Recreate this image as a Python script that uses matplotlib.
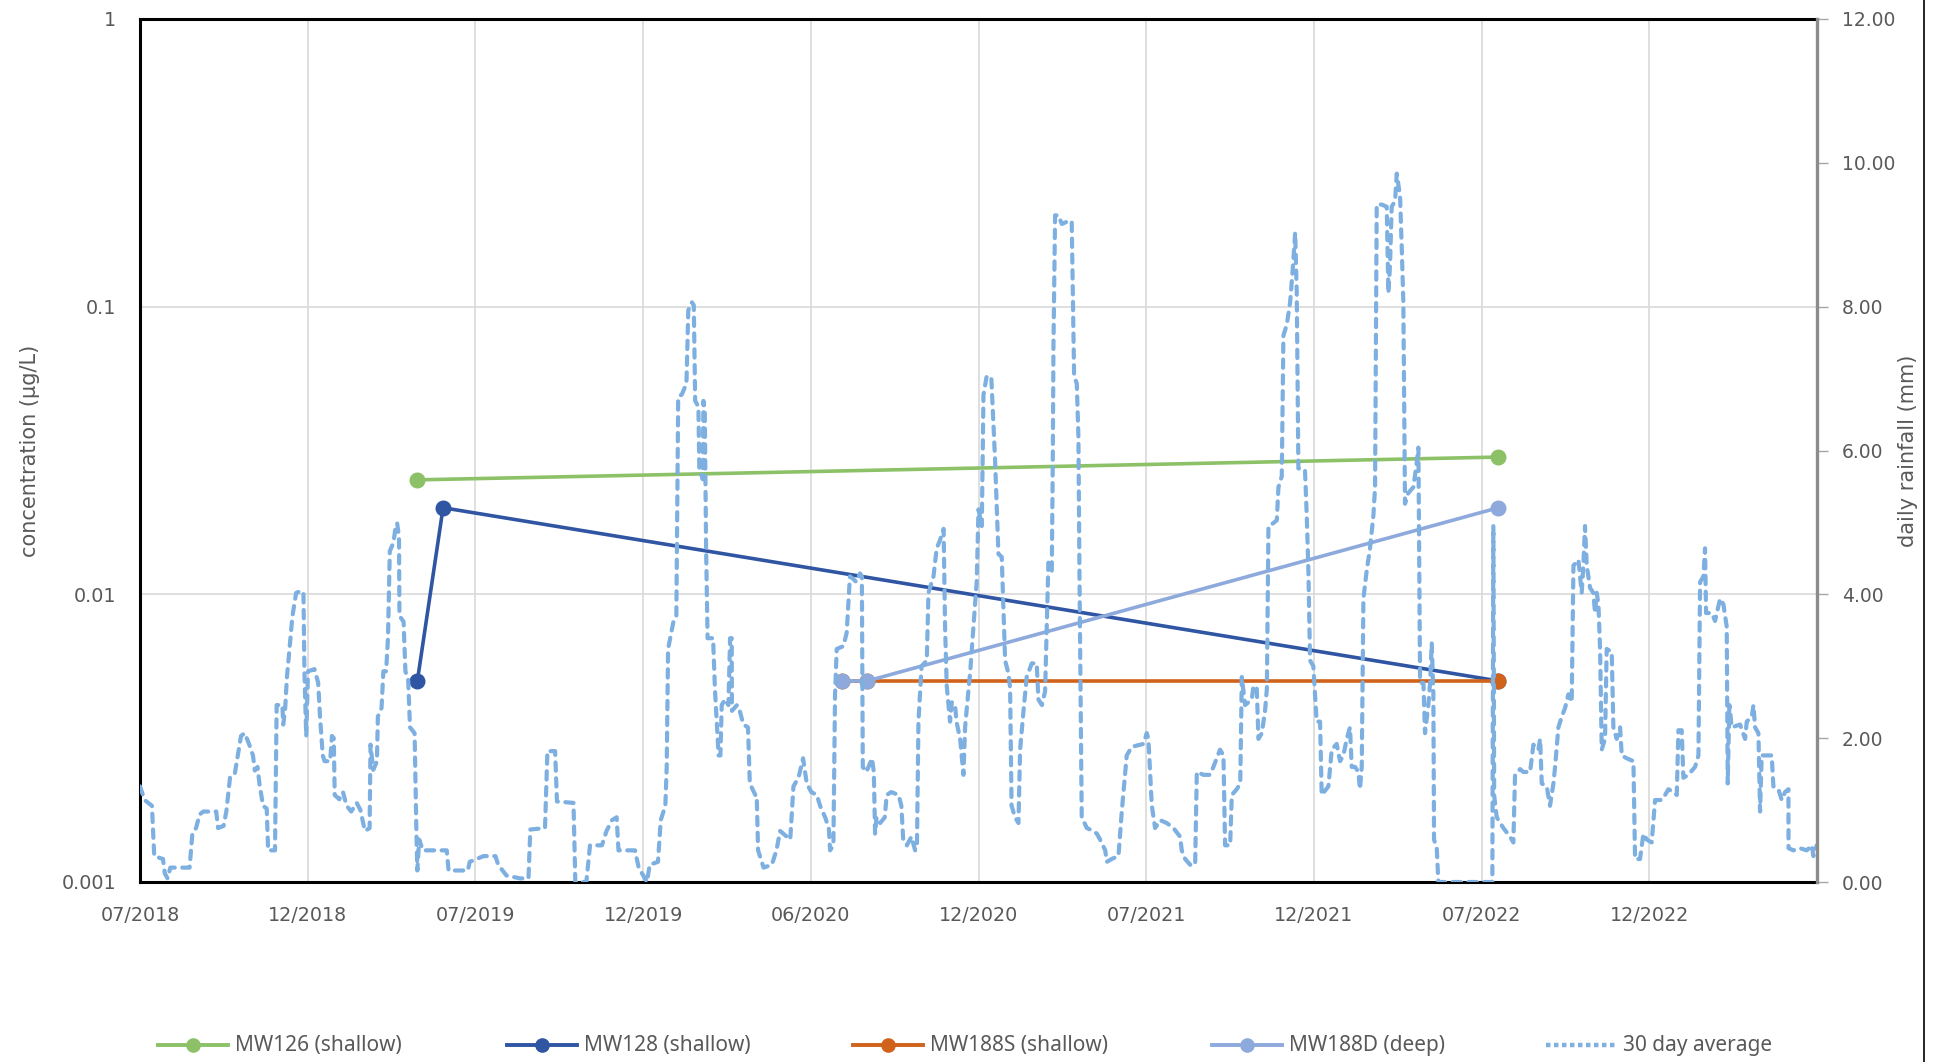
import numpy as np
import pandas as pd
import matplotlib
matplotlib.use("Agg")
import matplotlib.pyplot as plt
from matplotlib.lines import Line2D

# sampling dates and concentrations (ug/L)
mw126_dates = ["2019-04-29", "2022-07-19"]
mw126_conc = [0.025, 0.03]
mw128_dates = ["2019-04-29", "2019-05-27", "2022-07-19"]
mw128_conc = [0.005, 0.02, 0.005]
mw188s_dates = ["2020-08-03", "2020-08-31", "2022-07-19"]
mw188s_conc = [0.005, 0.005, 0.005]
mw188d_dates = ["2020-08-03", "2020-08-31", "2022-07-19"]
mw188d_conc = [0.005, 0.005, 0.02]

# 30 day average rainfall, days counted from 2018-07-01
rain_start = "2018-07-01"
rain_day = [0, 5, 13, 15.5, 25, 27, 30, 33, 54, 57, 61, 65, 69, 83, 85, 91, 94, 98, 103, 110,
            114, 119, 123, 125, 128, 130, 134, 138, 139.5, 147, 148.8, 155, 156, 158, 160, 166, 170, 176, 178, 179,
            181, 183, 190, 194, 196, 199, 201, 207, 209, 211, 212, 217, 221, 225, 230, 236, 240, 243, 245, 250,
            251, 254, 258, 259, 263, 265, 268, 270, 272, 276, 278, 280, 282, 282.5, 287, 289, 292, 294, 299, 301,
            302, 304, 308, 334, 336, 357, 359, 374, 387, 390, 399, 414, 423, 425, 441, 443.6, 452, 454, 472, 474,
            486, 490, 503, 508, 514, 519, 521, 539, 543, 552, 555, 564, 567, 572, 573.5, 575, 581, 584, 586, 590,
            595, 597, 601, 603, 604.5, 608, 609, 612.7, 613.5, 615, 615.5, 616.4, 618, 624, 626, 630, 632, 633.4, 637, 640.7,
            642.5, 644.3, 644.5, 650, 653, 657, 662, 664, 670, 671.5, 673, 677, 679, 688, 693, 697, 708, 711.5, 717, 722,
            726, 731, 737, 740.5, 746, 750, 751.4, 755, 756.8, 758.6, 766, 769.5, 773, 777, 780, 784, 786, 787, 791, 797,
            799, 800.4, 802, 806, 811, 813, 818, 826, 829, 831, 835, 840, 844, 846, 847.6, 851, 856.7, 858.5, 864, 867.5,
            871, 875, 876.6, 878.4, 882, 884, 887.5, 889, 893, 896.6, 898.4, 900, 904, 907.5, 911, 913, 916.6, 918.4, 922, 927,
            931, 934.7, 938.3, 942, 945.6, 947.4, 949, 952.8, 956.5, 958.3, 962, 965.5, 971, 976.4, 978.2, 982, 985.5, 987.3,
            989.1, 992.8, 993.9, 994.6, 996.4, 1000, 1003.7, 1011, 1014.5, 1017.1, 1020, 1021.8, 1022.9, 1025.4, 1031, 1038,
            1042, 1045.4, 1051, 1052.7, 1058, 1065.4, 1069, 1074.4, 1080, 1092.6, 1096.2, 1098, 1101.7, 1105.3, 1110.7, 1118,
            1125.3, 1132.5, 1134.3, 1138, 1143.4, 1148.9, 1150.7, 1158, 1165, 1168.8, 1176, 1179.7, 1181.5, 1187, 1188.8,
            1194.2, 1198, 1199.7, 1203.3, 1210.6, 1212.4, 1216, 1217.8, 1221.5, 1225, 1227, 1228.7, 1234, 1237.8, 1239.6,
            1243.2, 1245, 1248.7, 1252.3, 1255.2, 1257.8, 1259.5, 1261.3, 1268.5, 1270.4, 1272.2, 1274, 1277.6, 1281.2,
            1284.9, 1286.7, 1294, 1297.6, 1303, 1306.7, 1310.3, 1314, 1317.5, 1319.4, 1323, 1326.6, 1328.4, 1330.3, 1332.1,
            1335.7, 1339.3, 1343, 1344.8, 1346.6, 1352, 1357.5, 1359.3, 1361.1, 1362.9, 1366.6, 1368.4, 1372, 1373.8,
            1375.6, 1377.4, 1381, 1386.5, 1390, 1392, 1393.8, 1397.4, 1399.2, 1402.8, 1404.7, 1406.5, 1408.3, 1409, 1412,
            1413.7, 1470, 1472.5, 1473.6, 1474.5, 1477.3, 1484.5, 1491.8, 1495.4, 1497.2, 1502.7, 1506.3, 1513.6, 1517.2,
            1522.6, 1524.5, 1526.3, 1531.7, 1535.3, 1539, 1540.8, 1544.4, 1548.1, 1551.7, 1555.3, 1558.9, 1560.8, 1566.2,
            1569.8, 1571.6, 1573.4, 1575.3, 1578.9, 1582.5, 1584.3, 1586.2, 1588, 1589.8, 1591.6, 1595.2, 1597, 1602.5,
            1604.3, 1607.9, 1611.6, 1613.4, 1618.8, 1626.1, 1627.9, 1633.3, 1637, 1640.6, 1646, 1649.7, 1657, 1660.6,
            1664.2, 1669.6, 1673.3, 1675.1, 1678.7, 1680.5, 1686, 1693.2, 1696.9, 1698.7, 1702.3, 1704.1, 1705.2, 1711.4,
            1715, 1720.5, 1724.1, 1727.7, 1728.8, 1730.6, 1733.2, 1742.2, 1747.7, 1749.5, 1755, 1756.8, 1758.6, 1762.2,
            1764, 1765.8, 1776.7, 1778.5, 1784, 1787.6, 1791.2, 1794.9, 1795, 1800.3, 1807.6, 1814.8, 1820.3, 1822.1, 1825.7]
rain_mm = [1.33, 1.14, 1.06, 0.36, 0.32, 0.12, 0.05, 0.2, 0.2, 0.67, 0.75, 0.94, 0.98, 0.98, 0.75, 0.78, 0.98, 1.45, 1.49, 2.03,
           2.07, 1.91, 1.76, 1.55, 1.6, 1.37, 1.06, 1.02, 0.44, 0.44, 2.46, 2.46, 2.19, 2.4, 2.85, 3.7, 4.02, 4.05, 4.02, 2.93,
           2.03, 2.93, 2.96, 2.77, 2.30, 1.76, 1.68, 1.68, 2.03, 2.0, 1.21, 1.15, 1.25, 1.06, 0.98, 1.1, 1.0, 0.82, 0.71, 0.75,
           1.91, 1.56, 1.68, 2.30, 2.42, 2.93, 2.93, 3.39, 4.60, 4.72, 4.91, 4.99, 4.8, 3.70, 3.62, 2.93, 2.81, 2.15, 2.07, 0.67,
           0.16, 0.59, 0.44, 0.44, 0.16, 0.16, 0.28, 0.36, 0.36, 0.24, 0.09, 0.05, 0.05, 0.73, 0.75, 1.82, 1.82, 1.12, 1.10, 0.0,
           0.0, 0.51, 0.51, 0.71, 0.86, 0.9, 0.44, 0.44, 0.2, 0.0, 0.24, 0.28, 0.86, 1.06, 1.60, 3.24, 3.63, 3.70, 6.74, 6.78,
           6.93, 7.95, 8.06, 8.02, 6.69, 6.61, 5.75, 5.60, 6.69, 6.51, 5.88, 4.64, 3.39, 3.39, 2.69, 1.76, 1.76, 2.46, 2.54, 2.46,
           3.39, 3.39, 2.38, 2.46, 2.38, 2.19, 2.15, 1.37, 1.21, 1.21, 0.44, 0.28, 0.2, 0.24, 0.44, 0.71, 0.59, 1.33, 1.45, 1.72,
           1.37, 1.25, 1.21, 1.06, 0.90, 0.75, 0.44, 0.51, 2.61, 3.24, 3.28, 3.47, 4.25, 4.21, 4.17, 4.29, 4.25, 1.60, 1.53, 1.72,
           1.53, 0.67, 0.9, 0.82, 0.9, 1.21, 1.25, 1.21, 1.06, 0.59, 0.51, 0.63, 0.44, 0.51, 2.23, 3.0, 3.08, 4.02, 4.25, 4.64,
           4.75, 4.91, 3.55, 2.73, 2.23, 2.50, 2.46, 2.23, 1.99, 1.49, 2.15, 2.38, 2.93, 3.55, 4.17, 5.18, 4.95, 6.77, 7.04, 7.0,
           5.88, 4.56, 4.52, 3.08, 2.9, 2.7, 1.06, 0.9, 0.82, 1.84, 2.38, 2.85, 3.04, 3.04, 2.54, 2.46, 2.65, 3.55,
           4.44, 4.33, 5.88, 7.44, 9.27, 9.27, 9.15, 9.19, 9.19, 7.04, 6.93, 6.19, 4.33, 0.90, 0.75, 0.71,
           0.67, 0.59, 0.44, 0.28, 0.32, 0.36, 0.98, 1.76, 1.88, 1.92, 2.07, 1.99, 1.06, 0.75, 0.86, 0.82,
           0.75, 0.63, 0.44, 0.32, 0.24, 0.24, 1.53, 1.49, 1.49, 1.60, 1.84, 1.76, 0.51, 0.51, 1.21,
           1.29, 1.37, 2.85, 2.46, 2.54, 2.73, 2.69, 1.99, 2.07, 2.38, 2.69, 4.95, 4.99, 5.03, 5.49,
           5.64, 7.60, 7.75, 8.06, 8.53, 9.03, 8.22, 5.75, 5.73, 5.1, 4.33, 3.08, 3.0, 2.23,
           2.23, 1.21, 1.33, 1.84, 1.92, 1.68, 1.76, 1.99, 2.15, 1.6, 1.6, 1.53, 1.29, 1.60, 3.94,
           4.33, 4.64, 5.1, 5.49, 9.42, 9.42, 9.39, 8.19, 8.58, 9.39, 9.47, 9.85, 9.54, 8.84,
           8.06, 5.26, 5.41, 5.49, 5.81, 6.04, 2.77, 2.77, 2.07, 2.46, 2.77, 3.32, 2.61, 0.59, 0.47,
           0.0, 0.0, 0.0, 4.95, 1.2, 0.9, 0.75, 0.63, 0.55, 1.49, 1.57, 1.53, 1.53, 1.91,
           1.84, 1.99, 1.37, 1.33, 1.06, 1.37, 1.60, 2.15, 2.30, 2.42, 2.61, 2.50, 4.40, 4.48,
           4.02, 4.40, 4.95, 4.4, 4.09, 4.02, 3.74, 4.02, 3.86, 3.24, 1.84, 1.99, 3.24, 3.20,
           2.15, 1.99, 2.15, 1.76, 1.72, 1.68, 0.32, 0.32, 0.67, 0.59, 0.55, 1.14, 1.14, 1.21,
           1.29, 1.25, 1.21, 2.11, 2.11, 1.45, 1.49, 1.60, 1.76, 4.17, 4.25, 4.64, 3.74, 3.74,
           3.63, 3.94, 3.86, 3.55, 1.37, 2.46, 2.15, 2.19, 1.99, 2.23, 2.30, 2.46, 2.15, 2.07,
           0.98, 1.76, 1.76, 1.33, 1.29, 1.14, 1.25, 1.29, 0.47, 0.44, 0.47, 0.44, 0.51, 0.36, 0.51]

tick_labels = ["07/2018", "12/2018", "07/2019", "12/2019", "06/2020",
               "12/2020", "07/2021", "12/2021", "07/2022", "12/2022"]

W, H = 1939, 1062
fig = plt.figure(figsize=(W / 100, H / 100), dpi=100)
ax = fig.add_axes([140 / W, 1 - 882 / H, 1677 / W, 863 / H])
ax2 = ax.twinx()

grey = "#595959"
start = pd.Timestamp(rain_start)
rain_x = start + pd.to_timedelta(rain_day, unit="D")

series = [
    ("MW126 (shallow)", mw126_dates, mw126_conc, "#8CC168"),
    ("MW128 (shallow)", mw128_dates, mw128_conc, "#2F55A3"),
    ("MW188S (shallow)", mw188s_dates, mw188s_conc, "#D0621B"),
    ("MW188D (deep)", mw188d_dates, mw188d_conc, "#8EAADC"),
]
for name, d, c, col in series:
    ax.plot(pd.to_datetime(d), c, color=col, lw=2.6, marker="o", ms=10.5, zorder=3)

rain_col = "#7DAFE1"
ax2.plot(rain_x, rain_mm, color=rain_col, lw=3.0, ls=(0, (2.0, 1.8)),
         dash_capstyle="round", zorder=2)

# axes: log left, linear right
ax.set_yscale("log")
ax.set_ylim(0.001, 1)
ax.set_yticks([0.001, 0.01, 0.1, 1])
ax.set_yticklabels(["0.001", "0.01", "0.1", "1"])
ax.yaxis.set_minor_locator(matplotlib.ticker.NullLocator())
ax2.set_ylim(0, 12)
ax2.set_yticks(np.arange(0, 13, 2))
ax2.set_yticklabels([f"{v:.2f}" for v in np.arange(0, 13, 2)])

ticks = [start + pd.Timedelta(days=182.6 * k) for k in range(len(tick_labels))]
ax.set_xlim(start, start + pd.Timedelta(days=1826))
ax.set_xticks(ticks)
ax.set_xticklabels(tick_labels)
ax.xaxis.set_minor_locator(matplotlib.ticker.NullLocator())

ax.grid(True, which="major", color="#D9D9D9", lw=1.2)
ax.set_axisbelow(True)

ax.tick_params(axis="both", length=0, labelsize=13.8, labelcolor=grey)
ax.tick_params(axis="y", pad=17)
ax.tick_params(axis="x", pad=17)
ax2.tick_params(axis="y", length=8, width=1, color="#A6A6A6", labelsize=13.5,
                labelcolor=grey, pad=10)

for s in ["left", "top", "bottom"]:
    ax.spines[s].set_linewidth(2.2)
    ax.spines[s].set_color("black")
ax.spines["right"].set_visible(False)
for s in ["left", "top", "bottom"]:
    ax2.spines[s].set_visible(False)
ax2.spines["right"].set_color("#8C8C8C")
ax2.spines["right"].set_linewidth(2.4)

narrow = ["Liberation Sans Narrow", "DejaVu Sans"]
ax.set_ylabel("concentration (µg/L)", family=narrow, fontsize=15, color=grey, labelpad=16)
ax2.set_ylabel("daily rainfall (mm)", family=narrow, fontsize=15, color=grey, labelpad=2)

# legend row at the bottom
entries = [(n, col, "-", "o") for n, _, _, col in series] + [("30 day average", rain_col, (0, (1.0, 0.8)), None)]
x0s = [158, 507, 853, 1212, 1546]
yl = 17 / H
for (name, col, ls, mk), x0 in zip(entries, x0s):
    fig.add_artist(Line2D([x0 / W, (x0 + 70) / W], [yl, yl], color=col,
                          lw=2.8 if mk else 3.2, ls=ls, transform=fig.transFigure))
    if mk:
        fig.add_artist(Line2D([(x0 + 35) / W], [yl], color=col, marker=mk, ms=9.5,
                              transform=fig.transFigure))
    fig.text((x0 + 77) / W, yl, name, fontsize=15, color=grey, va="center", ha="left",
             family=["Noto Sans", "DejaVu Sans"])

fig.add_artist(Line2D([1924 / W, 1924 / W], [0, 1], color="black", lw=1.2,
                      transform=fig.transFigure))

fig.savefig("out.png", dpi=100)
